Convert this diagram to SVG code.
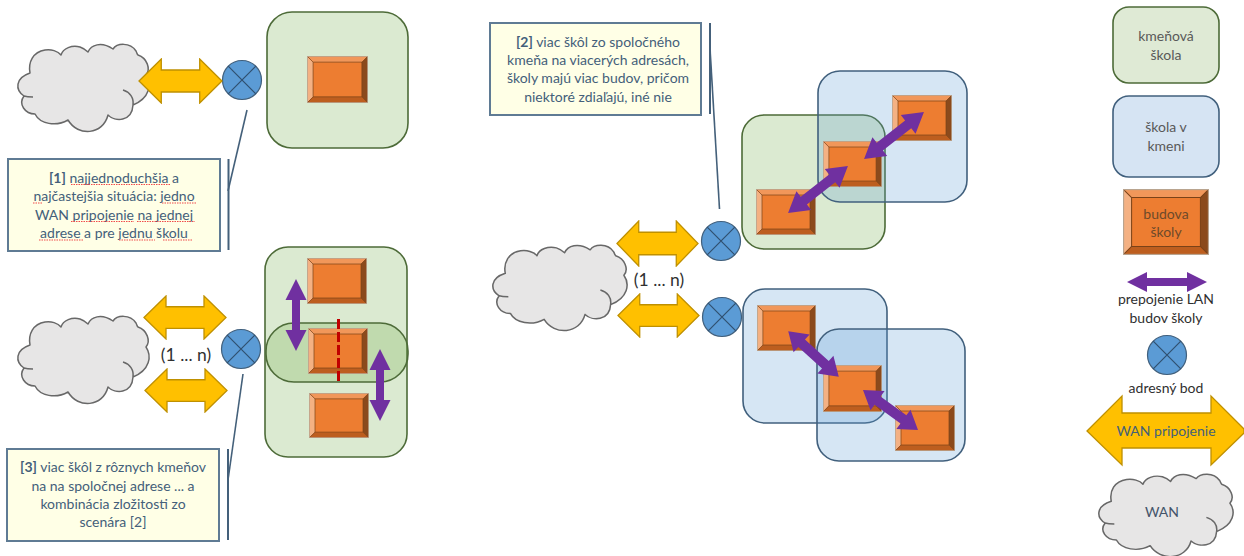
<svg xmlns="http://www.w3.org/2000/svg" width="1244" height="556" viewBox="0 0 1244 556">
<style>
text{font-family:"Lato","Open Sans","Liberation Sans",sans-serif;font-size:14px;text-anchor:middle}
.note{fill:#44607a}.note tspan.b{font-weight:700}
.legend{fill:#595959}.dark{fill:#303030}
.box{fill:#ffffe6;stroke:#5f7b94;stroke-width:2}
.lead{fill:none;stroke:#44607a;stroke-width:1.6}
.acc{fill:none;stroke:#44607a;stroke-width:2}
.g{fill:#70ad47;fill-opacity:.25;stroke:#4d6b38;stroke-width:1.6}
.bl{fill:#5b9bd5;fill-opacity:.25;stroke:#41607d;stroke-width:1.6}
.p{fill:#7030a0}
.sq{fill:none;stroke:#f04a4a;stroke-width:1.2;stroke-dasharray:1.5 1}
.wan{fill:#ffc000;stroke:#bf9000;stroke-width:1.3}
.n{font-size:17.500px}
</style>
<defs>
<symbol id="cloud" viewBox="0 0 132 91" preserveAspectRatio="none" overflow="visible">
<path d="M12 31C10 20 15 10 27 8C33 7 40 9 43 13C45 6 54 3 62 5C65 6 68 8 70 10C73 3 83-1 95 7C99 1 112 0 118 9C119 11 119 12 120 13C129 16 133 27 128 33C134 42 132 56 115 63C114 80 97 80 90 73C85 93 60 95 50 78C38 85 22 82 17 72C7 72 0 62 6 54C-3 48-3 36 12 31ZM105 48C112 50 116 56 115 63M6 54C9 55 12 55 15 55" fill="#e7e6e6" stroke="#686868" stroke-width="1.5" stroke-linejoin="round"/>
</symbol>
<symbol id="bld" viewBox="0 0 60 46" preserveAspectRatio="none">
<rect width="60" height="46" fill="#ed7d31"/>
<path d="M0 0H60L54 6H6Z" fill="#f1975a"/>
<path d="M0 0L6 6V40L0 46Z" fill="#f4b183"/>
<path d="M60 0V46L54 40V6Z" fill="#8b4a1c"/>
<path d="M0 46H60L54 40H6Z" fill="#bd5e1f"/>
<path d="M6 6H54V40H6ZM0 0L6 6M60 0L54 6M0 46L6 40M60 46L54 40" fill="none" stroke="#7a4218" stroke-width=".7"/>
<rect x=".4" y=".4" width="59.2" height="45.2" fill="none" stroke="#b9a48f" stroke-width=".8"/>
</symbol>
<symbol id="arr" viewBox="0 0 84 46" preserveAspectRatio="none">
<path class="wan" d="M1 23L23 1V12H61V1L83 23L61 45V34H23V45Z"/>
</symbol>
<g id="pt">
<circle r="19.5" fill="#5b9bd5" stroke="#41607d" stroke-width="1.2"/>
<path d="M-13.8-13.8L13.8 13.8M13.8-13.8L-13.8 13.8" stroke="#30506f" stroke-width="1.2"/>
</g>
</defs>

<g id="node-cloud-1"><use href="#cloud" x="18" y="42" width="132" height="91"/></g>
<g id="node-school-1"><rect class="g" x="267" y="12" width="141" height="136" rx="25"/></g>
<g id="node-building-1"><use href="#bld" x="307" y="56" width="61" height="47"/></g>
<g id="node-point-1"><use href="#pt" transform="translate(242 80)"/></g>
<g id="node-note-1">
<rect class="box" x="8" y="159" width="212" height="92"/>
<text class="note" x="114" y="183"><tspan class="b">[1]</tspan> najjednoduchšia a</text>
<text class="note" x="114" y="201">najčastejšia situácia: jedno</text>
<text class="note" x="114" y="220">WAN pripojenie na jednej</text>
<text class="note" x="114" y="238">adrese a pre jednu školu</text>
<path class="sq" d="M71 184.500H170M33 203H43M162 203H196M71 221.500H134M137 221.500H195M39 240H83M119 240H155M163 240H192"/>
</g>

<g id="node-cloud-2"><use href="#cloud" x="18" y="314" width="132" height="91"/></g>
<g id="node-school-3a"><rect class="g" x="265" y="247" width="142" height="210" rx="23"/></g>
<g id="node-school-3b"><rect class="g" x="266" y="323" width="142" height="59" rx="28"/></g>
<g id="node-building-2"><use href="#bld" x="307" y="258" width="60" height="46"/></g>
<g id="node-building-3"><use href="#bld" x="308" y="328" width="60" height="46"/></g>
<g id="node-building-4"><use href="#bld" x="309" y="393" width="60" height="45"/></g>
<g id="node-point-2"><use href="#pt" transform="translate(241 349)"/></g>
<g id="node-note-3">
<rect class="box" x="7" y="449" width="212" height="92"/>
<text class="note" x="113" y="472"><tspan class="b">[3]</tspan> viac škôl z rôznych kmeňov</text>
<text class="note" x="113" y="491">na na spoločnej adrese ... a</text>
<text class="note" x="113" y="509">kombinácia zložitosti zo</text>
<text class="note" x="113" y="527">scenára [2]</text>
</g>

<g id="node-cloud-3"><use href="#cloud" x="493" y="243" width="135" height="89"/></g>
<g id="node-school-2a"><rect class="g" x="742" y="115" width="143" height="134" rx="22"/></g>
<g id="node-school-2b"><rect class="bl" x="818" y="71" width="149" height="131" rx="22"/></g>
<g id="node-school-2c"><rect class="bl" x="743" y="289" width="144" height="134" rx="22"/></g>
<g id="node-school-2d"><rect class="bl" x="817" y="329" width="148" height="132" rx="22"/></g>
<g id="node-building-5"><use href="#bld" x="892" y="95" width="60" height="46"/></g>
<g id="node-building-6"><use href="#bld" x="823" y="141" width="59" height="46"/></g>
<g id="node-building-7"><use href="#bld" x="756" y="189" width="60" height="46"/></g>
<g id="node-building-8"><use href="#bld" x="757" y="305" width="59" height="46"/></g>
<g id="node-building-9"><use href="#bld" x="823" y="365" width="59" height="47"/></g>
<g id="node-building-10"><use href="#bld" x="895" y="405" width="60" height="46"/></g>
<g id="node-point-3"><use href="#pt" transform="translate(721 241)"/></g>
<g id="node-point-4"><use href="#pt" transform="translate(722 317)"/></g>
<g id="node-note-2">
<rect class="box" x="490" y="23" width="211" height="92"/>
<text class="note" x="598" y="47"><tspan class="b">[2]</tspan> viac škôl zo spoločného</text>
<text class="note" x="598" y="65">kmeňa na viacerých adresách,</text>
<text class="note" x="598" y="83">školy majú viac budov, pričom</text>
<text class="note" x="598" y="102">niektoré zdiaľajú, iné nie</text>
</g>

<g id="connectors">
<use href="#arr" x="138" y="58" width="85" height="46"/>
<use href="#arr" x="143" y="295" width="84" height="45"/>
<use href="#arr" x="144" y="368" width="84" height="45"/>
<use href="#arr" x="616" y="220" width="83" height="47"/>
<use href="#arr" x="617" y="293" width="83" height="45"/>
<path class="lead" d="M247 110L228 191"/><path class="acc" d="M228.500 159V250"/>
<path class="lead" d="M243 374L228 480"/><path class="acc" d="M228 449V540"/>
<path class="lead" d="M710 48L719.500 209"/><path class="acc" d="M710 23V114"/>
<path class="p" transform="translate(296 315)" d="M0-36L10.500-15H4V15H10.500L0 36L-10.500 15H-4V-15H-10.500Z"/>
<path class="p" transform="translate(380 385)" d="M0-36L10.500-15H4V15H10.500L0 36L-10.500 15H-4V-15H-10.500Z"/>
<path class="p" transform="translate(894 135.500) rotate(-38)" d="M-38 0L-18-12V-5H18V-12L38 0L18 12V5H-18V12Z"/>
<path class="p" transform="translate(818 189.500) rotate(-38)" d="M-38 0L-18-12V-5H18V-12L38 0L18 12V5H-18V12Z"/>
<path class="p" transform="translate(813.500 354) rotate(42)" d="M-34 0L-16-12V-5H16V-12L34 0L16 12V5H-16V12Z"/>
<path class="p" transform="translate(890.500 410) rotate(36)" d="M-34 0L-16-12V-5H16V-12L34 0L16 12V5H-16V12Z"/>
<path class="acc" d="M338.500 319V383" style="stroke:#c00000;stroke-width:3;stroke-dasharray:10 3"/>
</g>
<text class="dark n" x="186" y="361">(1 ... n)</text>
<text class="dark n" x="659" y="286">(1 ... n)</text>

<g id="legend-school"><rect x="1113" y="7" width="106" height="76" rx="16" fill="#dfead5" stroke="#4d6b38" stroke-width="1.6"/>
<text class="legend" x="1166" y="41">kmeňová</text><text class="legend" x="1166" y="60">škola</text></g>
<g id="legend-branch"><rect x="1113" y="96" width="106" height="81" rx="16" fill="#d6e4f3" stroke="#41607d" stroke-width="1.6"/>
<text class="legend" x="1166" y="132">škola v</text><text class="legend" x="1166" y="151">kmeni</text></g>
<g id="legend-building"><use href="#bld" x="1123" y="189" width="86" height="66"/>
<text x="1166" y="219" fill="#6e4a2a">budova</text><text x="1166" y="237" fill="#6e4a2a">školy</text></g>
<g id="legend-lan"><path class="p" d="M1127 282L1147 272V278H1187V272L1207 282L1187 292V286H1147V292Z"/>
<text class="dark" x="1166" y="304">prepojenie LAN</text><text class="dark" x="1166" y="323">budov školy</text></g>
<g id="legend-point"><use href="#pt" transform="translate(1167 355)"/><text class="dark" x="1166" y="393">adresný bod</text></g>
<g id="legend-wan-link"><path class="wan" d="M1087 431L1122 396V413H1211V396L1244 429V433L1211 465V448H1122V465Z"/>
<text class="note" x="1166" y="436">WAN pripojenie</text></g>
<g id="legend-wan"><use href="#cloud" x="1099" y="472" width="135" height="86"/><text x="1162" y="517" fill="#44546a">WAN</text></g>
</svg>
